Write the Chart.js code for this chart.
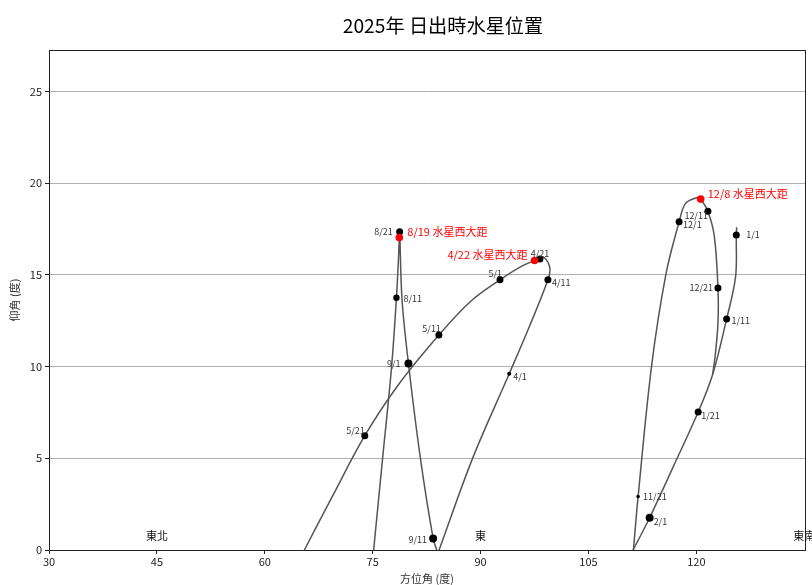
<!DOCTYPE html>
<html lang="zh-Hant">
<head>
<meta charset="utf-8">
<title>2025年 日出時水星位置</title>
<script src="https://cdn.jsdelivr.net/npm/chart.js@4.4.1/dist/chart.umd.min.js"></script>
<style>
  html, body { margin: 0; padding: 0; background: #fff; }
  #chart { display: block; }
</style>
</head>
<body>
<canvas id="chart" width="812" height="585"></canvas>
<script>
const chartTitle = '2025年 日出時水星位置';

// axis ticks
const xTicks = [30, 45, 60, 75, 90, 105, 120];
const yTicks = [0, 5, 10, 15, 20, 25];

// Mercury at sunrise, four visible stretches of its path (azimuth, altitude in degrees)
const janAz  = [125.6, 125.55, 125.45, 124.2, 122.25, 120.25, 116.9, 113.5, 111.2];
const janAlt = [17.6, 17.17, 14.9, 12.59, 9.55, 7.52, 4.64, 1.76, 0];

const aprAz  = [84.23, 88.9, 93.98, 96.8, 99.36, 99.63, 98.85, 98.25, 97.5, 95.6, 92.7, 88.6, 84.2, 78.5, 73.9, 69.5, 65.5];
const aprAlt = [0, 5.01, 9.61, 12.2, 14.73, 15.37, 15.95, 15.86, 15.78, 15.45, 14.73, 13.55, 11.72, 8.97, 6.23, 3.0, 0];

const augAz  = [75.13, 76.38, 77.63, 78.3, 78.6, 78.7, 78.75, 79.08, 79.97, 81.63, 83.4, 83.9];
const augAlt = [0, 5.01, 10.0, 13.75, 16.0, 17.04, 17.35, 13.64, 10.17, 5.01, 0.63, 0];

const novAz  = [111.25, 111.9, 113.76, 115.75, 117.6, 118.5, 120.2, 120.6, 121.6, 122.5, 123.0, 123.0, 122.6, 122.25];
const novAlt = [0, 2.92, 10.0, 15.0, 17.89, 18.9, 19.22, 19.13, 18.47, 17.09, 14.28, 12.37, 10.55, 9.55];

// ten-day marks
const markDates = ['1/1', '1/11', '1/21', '2/1', '4/1', '4/11', '4/21', '5/1', '5/11', '5/21',
                   '8/11', '8/21', '9/1', '9/11', '11/21', '12/1', '12/11', '12/21'];
const markAz  = [125.55, 124.2, 120.25, 113.5, 93.98, 99.36, 98.25, 92.7, 84.2, 73.9,
                 78.3, 78.75, 79.97, 83.4, 111.9, 117.6, 121.6, 123.0];
const markAlt = [17.17, 12.59, 7.52, 1.76, 9.61, 14.73, 15.86, 14.73, 11.72, 6.23,
                 13.75, 17.35, 10.17, 0.63, 2.92, 17.89, 18.47, 14.28];

// greatest western elongation
const elongDates = ['4/22', '8/19', '12/8'];
const elongAz  = [97.5, 78.7, 120.6];
const elongAlt = [15.78, 17.04, 19.13];

// compass directions on the horizon
const compassNames = ['東北', '東', '東南'];
const compassAz = [45, 90, 135];

// --- styling ---
const FONT = "'Noto Sans CJK TC', 'Noto Sans', sans-serif";
const pathColor = '#555';

// dot size per mark (small ones for the faint dates)
const markRadius = { '4/1': 2, '11/21': 1.8, '2/1': 4, '9/1': 4, '9/11': 4, '8/11': 3.2 };

// label offsets in pixels: [dx, dy, align]
const markOffset = {
  '1/1': [10, 0, 'left'], '1/11': [5, 2, 'left'], '1/21': [3, 4, 'left'], '2/1': [4, 4, 'left'],
  '4/1': [4, 3, 'left'], '4/11': [4, 3, 'left'], '4/21': [0, -6, 'center'], '5/1': [2, -6, 'right'],
  '5/11': [2, -6, 'right'], '5/21': [0, -5, 'right'], '8/11': [7, 1, 'left'], '8/21': [-7, 0, 'right'],
  '9/1': [-8, 0, 'right'], '9/11': [-6, 1, 'right'], '11/21': [5, 0, 'left'], '12/1': [4, 3, 'left'],
  '12/11': [0, 4, 'right'], '12/21': [-5, 0, 'right']
};
const elongOffset = { '4/22': [-7, -6, 'right'], '8/19': [8, -6, 'left'], '12/8': [7, -5, 'left'] };

function pts(az, alt) {
  return az.map((a, i) => ({ x: a, y: alt[i] }));
}

function pathSet(az, alt) {
  return {
    type: 'line',
    data: pts(az, alt),
    borderColor: pathColor,
    borderWidth: 1.5,
    pointRadius: 0,
    tension: 0.35,
    fill: false,
    order: 3
  };
}

const textPlugin = {
  id: 'textLabels',
  afterDatasetsDraw(chart) {
    const { ctx, chartArea: a } = chart;
    const xs = chart.scales.x, ys = chart.scales.y;
    ctx.save();

    // frame like matplotlib spines
    ctx.strokeStyle = '#222';
    ctx.lineWidth = 1;
    ctx.strokeRect(a.left + 0.5, a.top + 0.5, a.right - a.left, a.bottom - a.top);

    ctx.textBaseline = 'middle';

    // title (sits a little right of the axes centre, as in the source figure)
    ctx.font = '19.2px ' + FONT;
    ctx.fillStyle = '#000';
    ctx.textAlign = 'center';
    ctx.fillText(chartTitle, 443, 26);

    // date labels
    ctx.font = '9px ' + FONT;
    ctx.fillStyle = '#333';
    markDates.forEach((d, i) => {
      const [dx, dy, al] = markOffset[d];
      ctx.textAlign = al;
      ctx.fillText(d, xs.getPixelForValue(markAz[i]) + dx, ys.getPixelForValue(markAlt[i]) + dy);
    });

    // elongation labels
    ctx.font = '11px ' + FONT;
    ctx.fillStyle = '#ff0000';
    elongDates.forEach((d, i) => {
      const [dx, dy, al] = elongOffset[d];
      ctx.textAlign = al;
      ctx.fillText(d + ' 水星西大距', xs.getPixelForValue(elongAz[i]) + dx, ys.getPixelForValue(elongAlt[i]) + dy);
    });

    // compass names
    ctx.font = '11px ' + FONT;
    ctx.fillStyle = '#111';
    ctx.textAlign = 'center';
    compassNames.forEach((n, i) => {
      ctx.fillText(n, xs.getPixelForValue(compassAz[i]), ys.getPixelForValue(0.75));
    });

    ctx.restore();
  }
};

Chart.defaults.font.family = FONT;
Chart.defaults.color = '#222';

new Chart(document.getElementById('chart'), {
  type: 'scatter',
  data: {
    datasets: [
      {
        data: pts(markAz, markAlt),
        backgroundColor: '#000',
        borderWidth: 0,
        pointRadius: markDates.map(d => markRadius[d] || 3.5),
        order: 1
      },
      {
        data: pts(elongAz, elongAlt),
        backgroundColor: '#ff0000',
        borderWidth: 0,
        pointRadius: 3.8,
        order: 0
      },
      pathSet(janAz, janAlt),
      pathSet(aprAz, aprAlt),
      pathSet(augAz, augAlt),
      pathSet(novAz, novAlt)
    ]
  },
  options: {
    responsive: false,
    animation: false,
    devicePixelRatio: 1,
    layout: { padding: { left: 0, right: 7, top: 50, bottom: 0 } },
    plugins: {
      legend: { display: false },
      tooltip: { enabled: false },
      title: { display: false }
    },
    scales: {
      x: {
        type: 'linear',
        min: 30,
        max: 135.1,
        afterFit: s => { s.height = 35; },
        afterBuildTicks: s => { s.ticks = xTicks.map(v => ({ value: v })); },
        ticks: { font: { size: 11 }, padding: 1, color: '#222' },
        grid: { drawOnChartArea: false, drawTicks: true, tickLength: 4, tickColor: '#222' },
        border: { display: true, color: '#222' },
        title: { display: true, text: '方位角 (度)', font: { size: 11 }, color: '#333', padding: { top: 0, bottom: 0 } }
      },
      y: {
        type: 'linear',
        min: 0,
        max: 27.26,
        afterFit: s => { s.width = 49; },
        afterBuildTicks: s => { s.ticks = yTicks.map(v => ({ value: v })); },
        ticks: { font: { size: 11 }, padding: 3, color: '#222' },
        grid: { color: '#b0b0b0', lineWidth: 1, drawTicks: true, tickLength: 4, tickColor: '#222' },
        border: { display: true, color: '#222' },
        title: { display: true, text: '仰角 (度)', font: { size: 11 }, color: '#333', padding: { top: 8, bottom: 0 } }
      }
    }
  },
  plugins: [textPlugin]
});
</script>
</body>
</html>
